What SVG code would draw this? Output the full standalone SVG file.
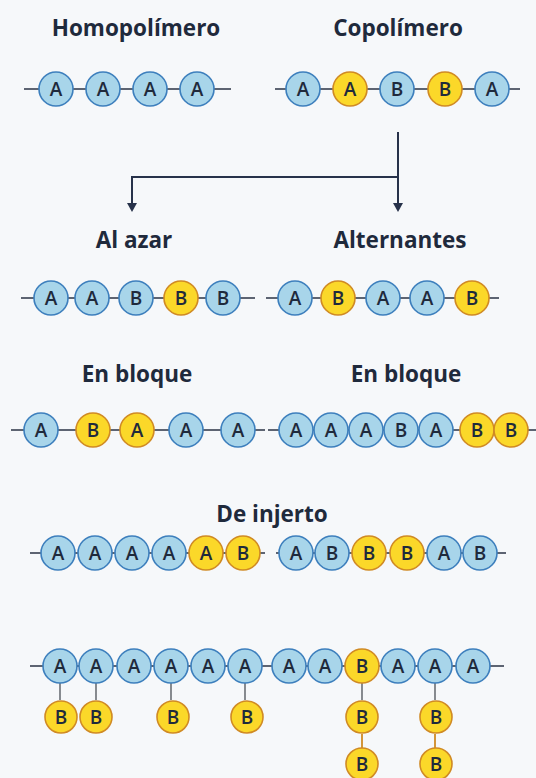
<svg xmlns="http://www.w3.org/2000/svg" width="536" height="778" viewBox="0 0 536 778">
<defs>
<style>
.t{font-family:"Open Sans","Liberation Sans",sans-serif;font-weight:700;font-size:22.5px;fill:#1f2a3c;text-anchor:middle}
.l{font-family:"Open Sans","Liberation Sans",sans-serif;font-weight:600;font-size:19px;fill:#1f2a3c;text-anchor:middle;dominant-baseline:central}
.b circle{fill:#a8d5ea;stroke:#3d7fbd;stroke-width:1.6}
.y circle{fill:#fbd829;stroke:#d08a24;stroke-width:1.6}
.bb{stroke:#2a3344;stroke-width:1.6;fill:none}
.st{stroke:#6b6f75;stroke-width:1.6}
.so{stroke:#d08a24;stroke-width:1.8}
.ar{stroke:#27324a;stroke-width:2;fill:none}
</style>
</defs>
<rect width="536" height="778" fill="#f6f8fa"/>

<g id="titles">
<text class="t" x="136" y="36">Homopolímero</text>
<text class="t" x="398" y="36">Copolímero</text>
<text class="t" x="134" y="248">Al azar</text>
<text class="t" x="400" y="248">Alternantes</text>
<text class="t" x="137" y="382">En bloque</text>
<text class="t" x="406" y="382">En bloque</text>
<text class="t" x="272" y="522">De injerto</text>
</g>

<g id="connectors">
<path class="ar" d="M398 132 V204"/>
<path class="ar" d="M398 177 H132 V204"/>
<path d="M393 203 L403 203 L398 212 Z" fill="#27324a"/>
<path d="M127 203 L137 203 L132 212 Z" fill="#27324a"/>
<line class="bb" x1="24" y1="89" x2="231" y2="89"/>
<line class="bb" x1="275" y1="89" x2="520" y2="89"/>
<line class="bb" x1="21" y1="298" x2="255" y2="298"/>
<line class="bb" x1="266" y1="298" x2="499" y2="298"/>
<line class="bb" x1="11" y1="430" x2="265" y2="430"/>
<line class="bb" x1="268" y1="430" x2="536" y2="430"/>
<line class="bb" x1="30" y1="553" x2="265" y2="553"/>
<line class="bb" x1="276" y1="553" x2="506" y2="553"/>
<line class="bb" x1="30" y1="666" x2="504" y2="666"/>
<line class="st" x1="60" y1="683" x2="60" y2="700"/>
<line class="st" x1="96" y1="683" x2="96" y2="700"/>
<line class="st" x1="171" y1="683" x2="171" y2="700"/>
<line class="st" x1="245" y1="683" x2="245" y2="700"/>
<line class="st" x1="362" y1="683" x2="362" y2="700"/>
<line class="st" x1="435" y1="683" x2="435" y2="700"/>
<line class="so" x1="362" y1="734" x2="362" y2="748"/>
<line class="so" x1="435" y1="734" x2="435" y2="748"/>
</g>

<g id="h1" class="b"><circle cx="56" cy="89" r="17"/><text class="l" x="56" y="89">A</text></g>
<g id="h2" class="b"><circle cx="103" cy="89" r="17"/><text class="l" x="103" y="89">A</text></g>
<g id="h3" class="b"><circle cx="150" cy="89" r="17"/><text class="l" x="150" y="89">A</text></g>
<g id="h4" class="b"><circle cx="197" cy="89" r="17"/><text class="l" x="197" y="89">A</text></g>

<g id="c1" class="b"><circle cx="303" cy="89" r="17"/><text class="l" x="303" y="89">A</text></g>
<g id="c2" class="y"><circle cx="350" cy="89" r="17"/><text class="l" x="350" y="89">A</text></g>
<g id="c3" class="b"><circle cx="397" cy="89" r="17"/><text class="l" x="397" y="89">B</text></g>
<g id="c4" class="y"><circle cx="445" cy="89" r="17"/><text class="l" x="445" y="89">B</text></g>
<g id="c5" class="b"><circle cx="492" cy="89" r="17"/><text class="l" x="492" y="89">A</text></g>

<g id="r1" class="b"><circle cx="51" cy="298" r="17"/><text class="l" x="51" y="298">A</text></g>
<g id="r2" class="b"><circle cx="92" cy="298" r="17"/><text class="l" x="92" y="298">A</text></g>
<g id="r3" class="b"><circle cx="136" cy="298" r="17"/><text class="l" x="136" y="298">B</text></g>
<g id="r4" class="y"><circle cx="181" cy="298" r="17"/><text class="l" x="181" y="298">B</text></g>
<g id="r5" class="b"><circle cx="223" cy="298" r="17"/><text class="l" x="223" y="298">B</text></g>

<g id="a1" class="b"><circle cx="295" cy="298" r="17"/><text class="l" x="295" y="298">A</text></g>
<g id="a2" class="y"><circle cx="338" cy="298" r="17"/><text class="l" x="338" y="298">B</text></g>
<g id="a3" class="b"><circle cx="383" cy="298" r="17"/><text class="l" x="383" y="298">A</text></g>
<g id="a4" class="b"><circle cx="427" cy="298" r="17"/><text class="l" x="427" y="298">A</text></g>
<g id="a5" class="y"><circle cx="472" cy="298" r="17"/><text class="l" x="472" y="298">B</text></g>

<g id="bl1" class="b"><circle cx="41" cy="430" r="17"/><text class="l" x="41" y="430">A</text></g>
<g id="bl2" class="y"><circle cx="93" cy="430" r="17"/><text class="l" x="93" y="430">B</text></g>
<g id="bl3" class="y"><circle cx="137" cy="430" r="17"/><text class="l" x="137" y="430">A</text></g>
<g id="bl4" class="b"><circle cx="186" cy="430" r="17"/><text class="l" x="186" y="430">A</text></g>
<g id="bl5" class="b"><circle cx="238" cy="430" r="17"/><text class="l" x="238" y="430">A</text></g>

<g id="br1" class="b"><circle cx="296" cy="430" r="17"/><text class="l" x="296" y="430">A</text></g>
<g id="br2" class="b"><circle cx="331" cy="430" r="17"/><text class="l" x="331" y="430">A</text></g>
<g id="br3" class="b"><circle cx="366" cy="430" r="17"/><text class="l" x="366" y="430">A</text></g>
<g id="br4" class="b"><circle cx="401" cy="430" r="17"/><text class="l" x="401" y="430">B</text></g>
<g id="br5" class="b"><circle cx="436" cy="430" r="17"/><text class="l" x="436" y="430">A</text></g>
<g id="br6" class="y"><circle cx="477" cy="430" r="17"/><text class="l" x="477" y="430">B</text></g>
<g id="br7" class="y"><circle cx="511" cy="430" r="17"/><text class="l" x="511" y="430">B</text></g>

<g id="i1" class="b"><circle cx="58" cy="553" r="17"/><text class="l" x="58" y="553">A</text></g>
<g id="i2" class="b"><circle cx="95" cy="553" r="17"/><text class="l" x="95" y="553">A</text></g>
<g id="i3" class="b"><circle cx="132" cy="553" r="17"/><text class="l" x="132" y="553">A</text></g>
<g id="i4" class="b"><circle cx="169" cy="553" r="17"/><text class="l" x="169" y="553">A</text></g>
<g id="i5" class="y"><circle cx="206" cy="553" r="17"/><text class="l" x="206" y="553">A</text></g>
<g id="i6" class="y"><circle cx="243" cy="553" r="17"/><text class="l" x="243" y="553">B</text></g>
<g id="j1" class="b"><circle cx="296" cy="553" r="17"/><text class="l" x="296" y="553">A</text></g>
<g id="j2" class="b"><circle cx="332" cy="553" r="17"/><text class="l" x="332" y="553">B</text></g>
<g id="j3" class="y"><circle cx="369" cy="553" r="17"/><text class="l" x="369" y="553">B</text></g>
<g id="j4" class="y"><circle cx="407" cy="553" r="17"/><text class="l" x="407" y="553">B</text></g>
<g id="j5" class="b"><circle cx="444" cy="553" r="17"/><text class="l" x="444" y="553">A</text></g>
<g id="j6" class="b"><circle cx="480" cy="553" r="17"/><text class="l" x="480" y="553">B</text></g>

<g id="m1" class="b"><circle cx="60" cy="666" r="17"/><text class="l" x="60" y="666">A</text></g>
<g id="m2" class="b"><circle cx="96" cy="666" r="17"/><text class="l" x="96" y="666">A</text></g>
<g id="m3" class="b"><circle cx="134" cy="666" r="17"/><text class="l" x="134" y="666">A</text></g>
<g id="m4" class="b"><circle cx="171" cy="666" r="17"/><text class="l" x="171" y="666">A</text></g>
<g id="m5" class="b"><circle cx="208" cy="666" r="17"/><text class="l" x="208" y="666">A</text></g>
<g id="m6" class="b"><circle cx="245" cy="666" r="17"/><text class="l" x="245" y="666">A</text></g>
<g id="m7" class="b"><circle cx="289" cy="666" r="17"/><text class="l" x="289" y="666">A</text></g>
<g id="m8" class="b"><circle cx="325" cy="666" r="17"/><text class="l" x="325" y="666">A</text></g>
<g id="m9" class="y"><circle cx="362" cy="666" r="17"/><text class="l" x="362" y="666">B</text></g>
<g id="m10" class="b"><circle cx="398" cy="666" r="17"/><text class="l" x="398" y="666">A</text></g>
<g id="m11" class="b"><circle cx="435" cy="666" r="17"/><text class="l" x="435" y="666">A</text></g>
<g id="m12" class="b"><circle cx="473" cy="666" r="17"/><text class="l" x="473" y="666">A</text></g>

<g id="g1" class="y"><circle cx="61" cy="717" r="16"/><text class="l" x="61" y="717">B</text></g>
<g id="g2" class="y"><circle cx="96" cy="717" r="16"/><text class="l" x="96" y="717">B</text></g>
<g id="g3" class="y"><circle cx="173" cy="717" r="16"/><text class="l" x="173" y="717">B</text></g>
<g id="g4" class="y"><circle cx="247" cy="717" r="16"/><text class="l" x="247" y="717">B</text></g>
<g id="g5" class="y"><circle cx="362" cy="717" r="16"/><text class="l" x="362" y="717">B</text></g>
<g id="g6" class="y"><circle cx="436" cy="717" r="16"/><text class="l" x="436" y="717">B</text></g>
<g id="g7" class="y"><circle cx="362" cy="764" r="16"/><text class="l" x="362" y="764">B</text></g>
<g id="g8" class="y"><circle cx="436" cy="764" r="16"/><text class="l" x="436" y="764">B</text></g>
</svg>
